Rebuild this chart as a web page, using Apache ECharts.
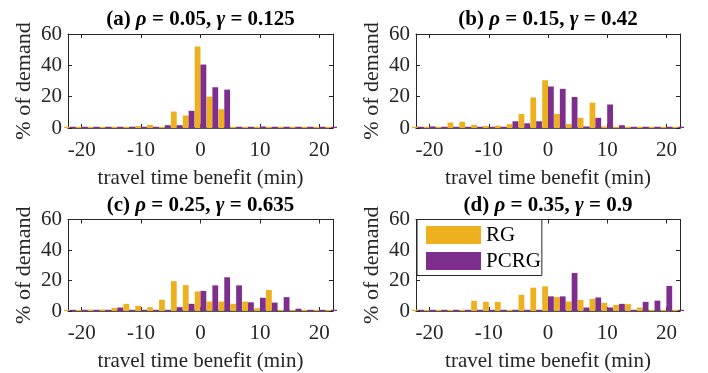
<!DOCTYPE html>
<html>
<head>
<meta charset="utf-8">
<script src="https://cdn.jsdelivr.net/npm/echarts@6/dist/echarts.min.js"></script>
<style>html,body{margin:0;padding:0;background:#fff;}#c{width:708px;height:373px;}</style>
</head>
<body>
<div id="c"></div>
<script>
// bin centres (travel time benefit, min)
const bins = [-22,-20,-18,-16,-14,-12,-10,-8,-6,-4,-2,0,2,4,6,8,10,12,14,16,18,20,22];
const xTicks = [-20,-10,0,10,20];
const yTicks = [0,20,40,60];
const seriesNames = ['RG','PCRG'];
const panelTitles = [
  ['(a) ','ρ',' = 0.05, ','γ',' = 0.125'],
  ['(b) ','ρ',' = 0.15, ','γ',' = 0.42'],
  ['(c) ','ρ',' = 0.25, ','γ',' = 0.635'],
  ['(d) ','ρ',' = 0.35, ','γ',' = 0.9']
];
const xName = 'travel time benefit (min)';
const yName = '% of demand';

// % of demand per bin
const rgA   = [0.8,0.8,0.8,0.8,0.8,0.8,1.2,2,0.8,10.5,8,52,20,12,0.8,0.8,0.8,0.8,0.8,0.8,0.8,0.8,0.8];
const pcrgA = [0.8,0.8,0.8,0.8,0.8,0.8,0.8,0.8,1.8,1.8,11,40.5,26,24.5,0.8,0.8,1,0.8,0.8,0.8,0.8,0.8,0.8];
const rgB   = [0.8,0.8,0.8,3.5,4,2,1.3,1.5,2.5,9,19.5,30.5,9,2.5,6.5,16.2,1,0.8,0.8,0.8,0.8,0.8,0.8];
const pcrgB = [0.8,1,0.8,0.8,0.8,0.8,0.8,0.8,4.3,3,4.3,26.5,25,19.8,1,6.5,15,1.8,0.8,0.8,0.8,0.8,0.8];
const rgC   = [0.8,0.8,1,1,2,4.7,3.4,2.5,7.4,19.6,17,12.8,6.2,6.2,4.7,6.2,1.8,13.8,0.8,0.8,0.8,0.8,0.8];
const pcrgC = [0.8,0.8,0.8,0.8,2.3,0.8,0.8,0.8,0.8,2.5,4.7,13.2,16.8,22.1,16.8,5.7,8.7,5.5,9.1,1.5,0.8,0.8,0.8];
const rgD   = [0.8,0.8,0.8,0.8,0.8,6.6,6,6,0.8,10.6,15.3,16.2,9.1,6.2,7.2,7.9,5.3,4,4.5,2.3,0.8,0.8,0.8];
const pcrgD = [0.8,0.8,0.8,0.8,0.8,0.8,0.8,0.8,0.8,0.8,0.8,9.6,9.6,24.9,2.3,8.9,2.3,4.7,0.8,6,6.8,16.4,0.8];

const panelData = [[rgA,pcrgA],[rgB,pcrgB],[rgC,pcrgC],[rgD,pcrgD]];
const colors = ['#EDB120','#7E2F8E'];

const FONT = '"Liberation Serif", "Times New Roman", serif';
const FS = 21;
const TXT = '#262626';
const XMIN = -22.3, XMAX = 22.3;

const grids = [
  {left:68, top:34, width:265, height:94},
  {left:416, top:34, width:264, height:94},
  {left:68, top:219.5, width:265, height:94.5},
  {left:416, top:219.5, width:264, height:94.5}
];

const option = {
  animation:false,
  backgroundColor:'#fff',
  textStyle:{fontFamily:FONT},
  grid: grids,
  title: grids.map((g,i)=>{
    const t = panelTitles[i];
    return {
      text: '{b|'+t[0]+'}{i|'+t[1]+'}{b|'+t[2]+'}{i|'+t[3]+'}{b|'+t[4]+'}',
      left: g.left + g.width/2,
      top: g.top - 24.5,
      textAlign:'center',
      padding:0,
      textStyle:{
        rich:{
          b:{fontFamily:FONT, fontWeight:'bold', fontSize:FS, color:'#000'},
          i:{fontFamily:FONT, fontStyle:'italic', fontSize:FS, color:'#000'}
        }
      }
    };
  }),
  legend:{
    data: seriesNames,
    orient:'vertical',
    left:417, top:219.5,
    icon:'rect',
    itemWidth:55, itemHeight:18, itemGap:5,
    padding:[5,1,4,9],
    backgroundColor:'#fff',
    borderColor:'#262626', borderWidth:1,
    textStyle:{fontFamily:FONT, fontSize:FS, lineHeight:18, color:'#000'},
    selectedMode:false
  },
  xAxis: [],
  yAxis: [],
  series: []
};

grids.forEach((g,i)=>{
  option.xAxis.push({
    type:'value', gridIndex:i, min:XMIN, max:XMAX, position:'bottom',
    name:xName, nameLocation:'middle', nameGap:40,
    nameTextStyle:{fontFamily:FONT, fontSize:FS, color:TXT},
    axisLine:{show:true, onZero:false, lineStyle:{color:'#1a1a1a', width:1.5}},
    axisTick:{show:true, inside:true, length:4, customValues:xTicks, lineStyle:{color:TXT}},
    axisLabel:{show:true, customValues:xTicks, margin:12, fontFamily:FONT, fontSize:FS, color:TXT},
    splitLine:{show:false}
  });
  option.xAxis.push({
    type:'value', gridIndex:i, min:XMIN, max:XMAX, position:'top',
    axisLine:{show:true, onZero:false, lineStyle:{color:TXT, width:1}},
    axisTick:{show:true, inside:true, length:4, customValues:xTicks, lineStyle:{color:TXT}},
    axisLabel:{show:false},
    splitLine:{show:false}
  });
  option.yAxis.push({
    type:'value', gridIndex:i, min:0, max:60, interval:20, position:'left',
    name:yName, nameLocation:'middle', nameGap:33, nameRotate:90,
    nameTextStyle:{fontFamily:FONT, fontSize:22, color:TXT},
    axisLine:{show:true, onZero:false, lineStyle:{color:TXT, width:1}},
    axisTick:{show:true, inside:true, length:4, lineStyle:{color:TXT}},
    axisLabel:{show:true, margin:6, fontFamily:FONT, fontSize:FS, color:TXT},
    splitLine:{show:false}
  });
  option.yAxis.push({
    type:'value', gridIndex:i, min:0, max:60, interval:20, position:'right',
    axisLine:{show:true, onZero:false, lineStyle:{color:TXT, width:1}},
    axisTick:{show:true, inside:true, length:4, lineStyle:{color:TXT}},
    axisLabel:{show:false},
    splitLine:{show:false}
  });
  panelData[i].forEach((vals,k)=>{
    option.series.push({
      type:'bar', name:seriesNames[k],
      xAxisIndex:i*2, yAxisIndex:i*2,
      data: bins.map((b,j)=>[b, vals[j]]),
      barWidth:5.8, barGap:'0%',
      clip:true,
      itemStyle:{color:colors[k]},
      emphasis:{disabled:true}
    });
  });
});

const chart = echarts.init(document.getElementById('c'), null, {renderer:'canvas'});
chart.setOption(option);
</script>
</body>
</html>
